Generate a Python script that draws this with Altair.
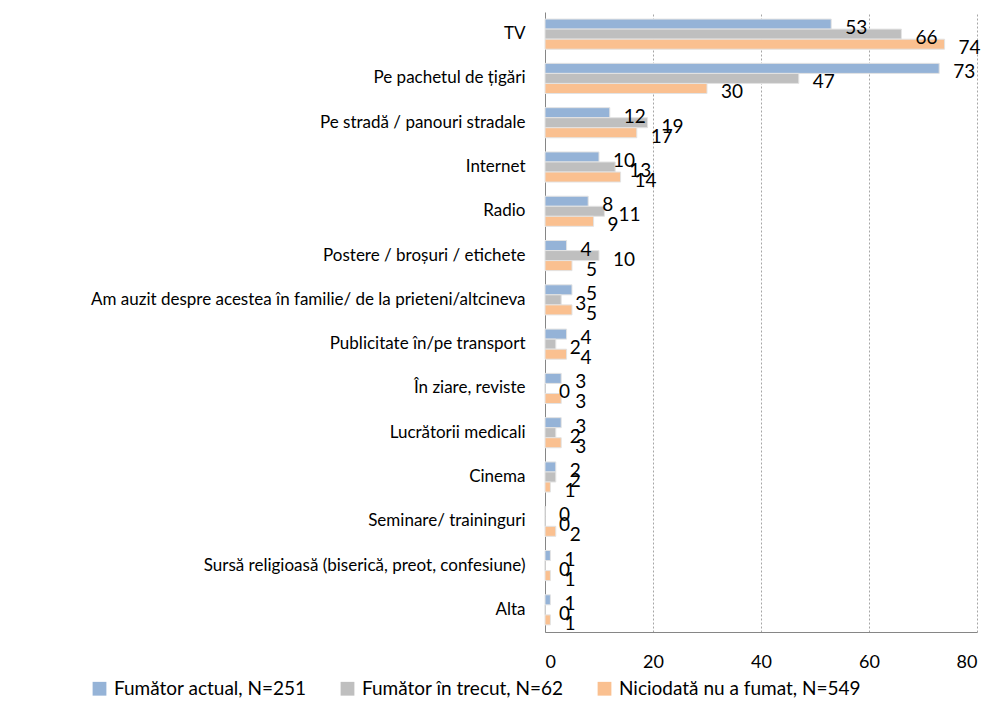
import altair as alt
import pandas as pd

categories = [
    "TV",
    "Pe pachetul de țigări",
    "Pe stradă / panouri stradale",
    "Internet",
    "Radio",
    "Postere / broșuri / etichete",
    "Am auzit despre acestea în familie/ de la prieteni/altcineva",
    "Publicitate în/pe transport",
    "În ziare, reviste",
    "Lucrătorii medicali",
    "Cinema",
    "Seminare/ traininguri",
    "Sursă religioasă (biserică, preot, confesiune)",
    "Alta",
]
series = ["Fumător actual, N=251", "Fumător în trecut, N=62", "Niciodată nu a fumat, N=549"]
current = [53, 73, 12, 10, 8, 4, 5, 4, 3, 3, 2, 0, 1, 1]
former = [66, 47, 19, 13, 11, 10, 3, 2, 0, 2, 2, 0, 0, 0]
never = [74, 30, 17, 14, 9, 5, 5, 4, 3, 3, 1, 2, 1, 1]
colors = ["#95B3D7", "#BFBFBF", "#FAC090"]

rows = []
for i, c in enumerate(categories):
    for s, vals in zip(series, [current, former, never]):
        rows.append({"cat": c, "series": s, "value": vals[i]})
df = pd.DataFrame(rows)

FONT = "Lato"

y_enc = alt.Y("cat:N", sort=categories, title=None,
              scale=alt.Scale(paddingInner=0.32, paddingOuter=0.16),
              axis=alt.Axis(labelFontSize=17, labelFont=FONT, labelColor="#000000",
                            labelPadding=20, ticks=False, domainColor="#868686",
                            labelLimit=600))
yoff = alt.YOffset("series:N", sort=series)
x_enc = alt.X("value:Q", title=None,
              scale=alt.Scale(domain=[0, 80]),
              axis=alt.Axis(values=[0, 20, 40, 60, 80], labelFontSize=18, labelFont=FONT,
                            labelColor="#000000", ticks=False, labelPadding=21,
                            grid=True, gridDash=[2, 2], gridColor="#A6A6A6",
                            domainColor="#868686"))

bars = alt.Chart(df).mark_bar(stroke="#E3E3E3", strokeWidth=1).encode(
    y=y_enc, yOffset=yoff, x=x_enc,
    color=alt.Color("series:N", sort=series,
                    scale=alt.Scale(domain=series, range=colors),
                    legend=alt.Legend(title=None, orient="none", direction="horizontal",
                                      legendX=-455, legendY=667,
                                      symbolType="square", symbolSize=190,
                                      symbolStrokeWidth=0, labelLimit=400,
                                      labelFontSize=19, labelFont=FONT,
                                      labelColor="#000000", columnPadding=31,
                                      labelOffset=5)),
)

labels = alt.Chart(df).mark_text(align="left", baseline="middle", dx=14, dy=4,
                                 fontSize=19, font=FONT, color="#000000").encode(
    y=alt.Y("cat:N", sort=categories), yOffset=yoff,
    x="value:Q", text=alt.Text("value:Q", format=".0f"),
)

chart = alt.layer(bars, labels).properties(
    width=432, height=620,
    autosize=alt.AutoSizeParams(type="none"),
    padding={"left": 537, "top": 4, "right": 5, "bottom": 66},
).configure_view(stroke=None).configure_axis(gridOpacity=1)

chart.save("out.html", embed_options={"renderer": "svg", "actions": False})
